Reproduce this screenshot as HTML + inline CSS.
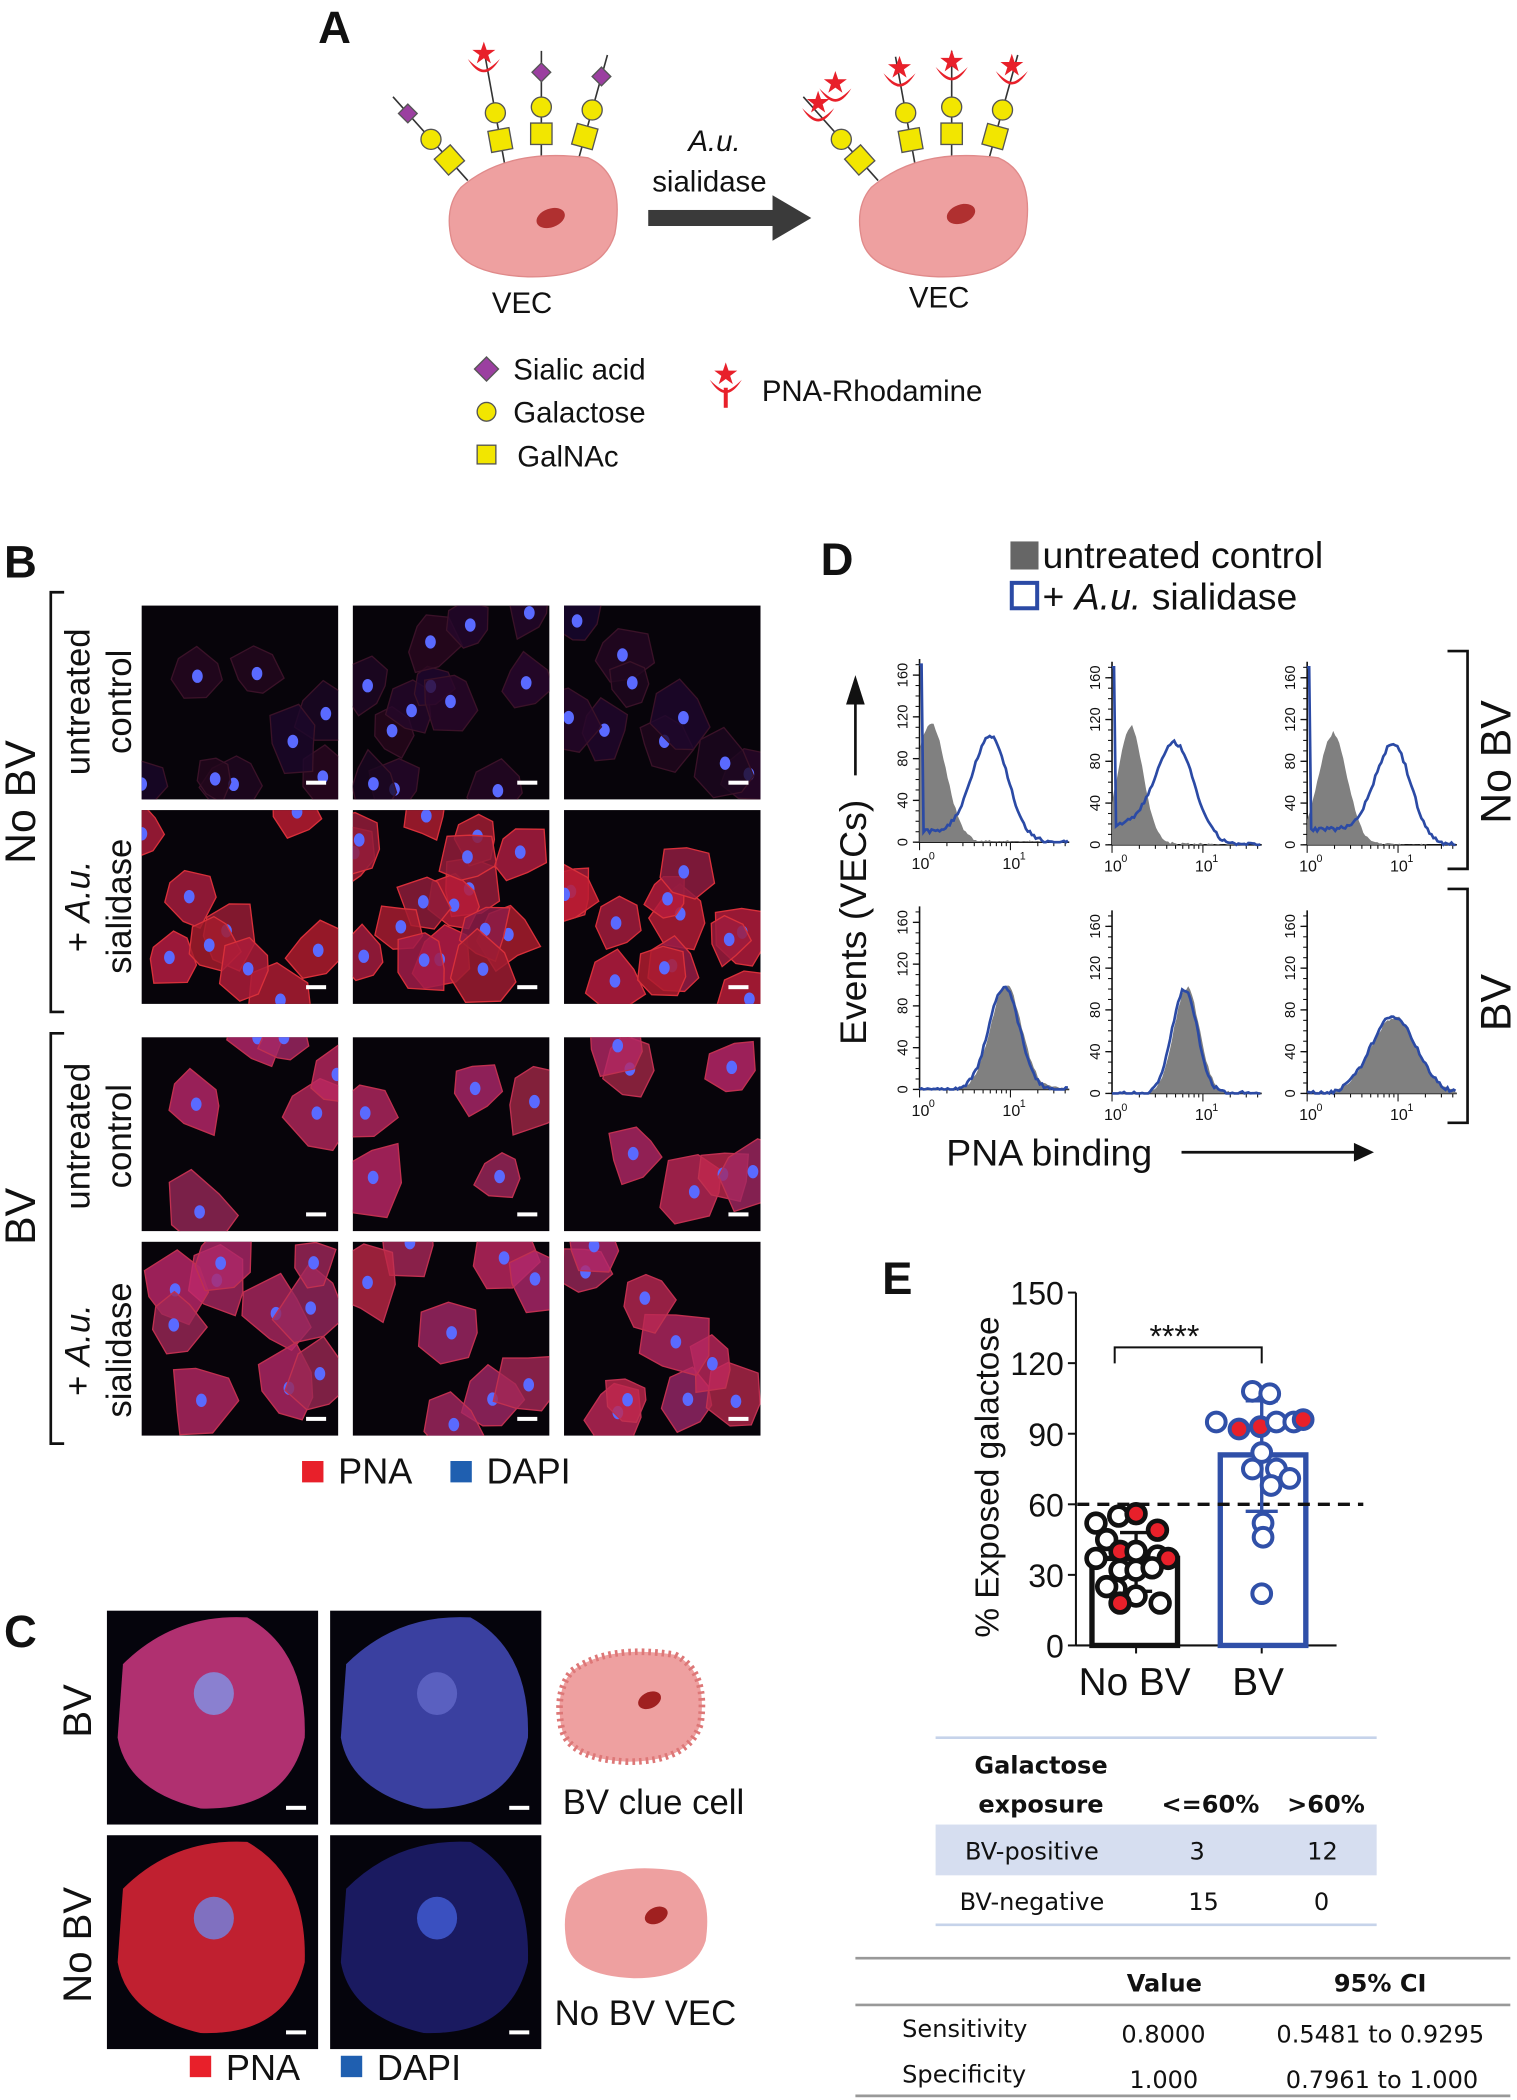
<!DOCTYPE html>
<html><head><meta charset="utf-8"><style>
html,body{margin:0;padding:0;background:#fff}
svg{display:block}
text{font-family:"Liberation Sans",Arial,sans-serif;fill:#111}
.cal{font-family:"DejaVu Sans","Liberation Sans",sans-serif}
</style></head><body>
<svg id="s" width="1517" height="2100" viewBox="0 0 1135 1571" xmlns="http://www.w3.org/2000/svg">
<rect width="1135" height="1571" fill="#fff"/>
<text x="238" y="32" font-size="34" font-weight="bold">A</text>
<g id="glyA"></g>
<path d="M345,140 Q380,110 440,118 Q468,130 460,175 Q450,208 395,207 Q345,205 338,180 Q332,155 345,140Z" fill="#eea0a0" stroke="#e08a8a"/>
<ellipse cx="412" cy="163" rx="11" ry="7" fill="#b03030" transform="rotate(-20 412 163)"/>
<path d="M652,140 Q687,110 747,118 Q775,130 767,175 Q757,208 702,207 Q652,205 645,180 Q639,155 652,140Z" fill="#eea0a0" stroke="#e08a8a"/>
<ellipse cx="719" cy="160" rx="11" ry="7" fill="#b03030" transform="rotate(-20 719 160)"/>
<text x="368" y="234" font-size="22">VEC</text>
<text x="680" y="230" font-size="22">VEC</text>
<text x="515" y="113" font-size="22" font-style="italic">A.u.</text>
<text x="488" y="143" font-size="22">sialidase</text>
<rect x="485" y="157" width="95" height="12" fill="#3a3a3a"/>
<polygon points="578,146 607,163 578,180" fill="#3a3a3a"/>
<polygon points="364,267 373,276 364,285 355,276" fill="#9b3fa0" stroke="#555"/>
<text x="384" y="284" font-size="22">Sialic acid</text>
<circle cx="364" cy="308" r="7" fill="#f2e600" stroke="#555"/>
<text x="384" y="316" font-size="22">Galactose</text>
<rect x="357" y="333" width="14" height="14" fill="#f2e600" stroke="#555"/>
<text x="387" y="349" font-size="22">GalNAc</text>
<text x="570" y="300" font-size="22">PNA-Rhodamine</text>
<g id="legPNA"></g>
<text x="3" y="432" font-size="34" font-weight="bold">B</text>
<g id="micro"></g>
<text transform="translate(26,600) rotate(-90)" font-size="32" text-anchor="middle">No BV</text>
<text transform="translate(26,910) rotate(-90)" font-size="32" text-anchor="middle">BV</text>
<text transform="translate(67,525) rotate(-90)" font-size="26" text-anchor="middle">untreated</text>
<text transform="translate(98,525) rotate(-90)" font-size="26" text-anchor="middle">control</text>
<text transform="translate(67,678) rotate(-90)" font-size="26" text-anchor="middle">+ <tspan font-style="italic">A.u.</tspan></text>
<text transform="translate(98,678) rotate(-90)" font-size="26" text-anchor="middle">sialidase</text>
<text transform="translate(67,850) rotate(-90)" font-size="26" text-anchor="middle">untreated</text>
<text transform="translate(98,850) rotate(-90)" font-size="26" text-anchor="middle">control</text>
<text transform="translate(67,1010) rotate(-90)" font-size="26" text-anchor="middle">+ <tspan font-style="italic">A.u.</tspan></text>
<text transform="translate(98,1010) rotate(-90)" font-size="26" text-anchor="middle">sialidase</text>
<path d="M48,443 H38 V757 H48" fill="none" stroke="#111" stroke-width="2"/>
<path d="M48,773 H38 V1080 H48" fill="none" stroke="#111" stroke-width="2"/>
<rect x="226" y="1093" width="16" height="16" fill="#e8202a"/>
<text x="253" y="1110" font-size="27">PNA</text>
<rect x="337" y="1093" width="16" height="16" fill="#1f5fb0"/>
<text x="364" y="1110" font-size="27">DAPI</text>
<text x="3" y="1232" font-size="34" font-weight="bold">C</text>
<g id="microC"></g>
<text transform="translate(68,1280) rotate(-90)" font-size="30" text-anchor="middle">BV</text>
<text transform="translate(68,1455) rotate(-90)" font-size="30" text-anchor="middle">No BV</text>
<path d="M428,1250 Q455,1230 505,1238 Q530,1250 524,1290 Q515,1318 470,1318 Q425,1316 420,1292 Q415,1265 428,1250Z" fill="#eea0a0" stroke="#d77" stroke-width="5" stroke-dasharray="2 3"/>
<ellipse cx="486" cy="1272" rx="9" ry="6" fill="#a02020" transform="rotate(-25 486 1272)"/>
<path d="M432,1412 Q459,1392 509,1400 Q534,1412 528,1452 Q519,1480 474,1480 Q429,1478 424,1454 Q419,1427 432,1412Z" fill="#eea0a0"/>
<ellipse cx="491" cy="1433" rx="9" ry="6" fill="#a02020" transform="rotate(-25 491 1433)"/>
<text x="421" y="1357" font-size="26">BV clue cell</text>
<text x="415" y="1515" font-size="26">No BV VEC</text>
<rect x="142" y="1538" width="16" height="16" fill="#e8202a"/>
<text x="169" y="1556" font-size="27">PNA</text>
<rect x="255" y="1538" width="16" height="16" fill="#1f5fb0"/>
<text x="282" y="1556" font-size="27">DAPI</text>
<text x="614" y="430" font-size="34" font-weight="bold">D</text>
<rect x="756" y="405" width="21" height="21" fill="#666"/>
<text x="780" y="425" font-size="28">untreated control</text>
<rect x="757" y="436" width="19" height="19" fill="#fff" stroke="#2b4aa5" stroke-width="3"/>
<text x="780" y="456" font-size="28">+ <tspan font-style="italic">A.u.</tspan> sialidase</text>
<g id="hist"></g>
<text transform="translate(648,690) rotate(-90)" font-size="28" text-anchor="middle">Events (VECs)</text>
<line x1="640" y1="525" x2="640" y2="580" stroke="#111" stroke-width="2"/>
<polygon points="633,527 647,527 640,505" fill="#111"/>
<path d="M1083,487 H1098 V650 H1083" fill="none" stroke="#111" stroke-width="2"/>
<path d="M1083,665 H1098 V840 H1083" fill="none" stroke="#111" stroke-width="2"/>
<text transform="translate(1130,570) rotate(-90)" font-size="32" text-anchor="middle">No BV</text>
<text transform="translate(1130,750) rotate(-90)" font-size="32" text-anchor="middle">BV</text>
<text x="708" y="872" font-size="28">PNA binding</text>
<line x1="884" y1="862" x2="1015" y2="862" stroke="#111" stroke-width="2"/>
<polygon points="1013,855 1013,869 1028,862" fill="#111"/>
<text x="660" y="968" font-size="34" font-weight="bold">E</text>
<g id="plotE"></g>
<text transform="translate(747,1105) rotate(-90)" font-size="25" text-anchor="middle">% Exposed galactose</text>
<text x="807" y="1268" font-size="29">No BV</text>
<text x="922" y="1268" font-size="29">BV</text>
<g class="cal">
<line x1="700" y1="1300" x2="1030" y2="1300" stroke="#c6d3ea" stroke-width="2"/>
<text x="729" y="1327" font-size="18" font-weight="bold" class="cal">Galactose</text>
<text x="732" y="1356" font-size="18" font-weight="bold" class="cal">exposure</text>
<text x="869" y="1356" font-size="18" font-weight="bold" class="cal">&lt;=60%</text>
<text x="963" y="1356" font-size="18" font-weight="bold" class="cal">&gt;60%</text>
<rect x="700" y="1365" width="330" height="38" fill="#d6def0"/>
<text x="722" y="1391" font-size="18" class="cal">BV-positive</text>
<text x="890" y="1391" font-size="18" class="cal">3</text>
<text x="978" y="1391" font-size="18" class="cal">12</text>
<text x="718" y="1429" font-size="18" class="cal">BV-negative</text>
<text x="889" y="1429" font-size="18" class="cal">15</text>
<text x="983" y="1429" font-size="18" class="cal">0</text>
<line x1="700" y1="1440" x2="1030" y2="1440" stroke="#c6d3ea" stroke-width="2"/>
<line x1="640" y1="1465" x2="1130" y2="1465" stroke="#999" stroke-width="2"/>
<text x="843" y="1490" font-size="18" font-weight="bold" class="cal">Value</text>
<text x="998" y="1490" font-size="18" font-weight="bold" class="cal">95% CI</text>
<line x1="640" y1="1500" x2="1130" y2="1500" stroke="#999" stroke-width="2"/>
<text x="675" y="1524" font-size="18" class="cal">Sensitivity</text>
<text x="839" y="1528" font-size="18" class="cal">0.8000</text>
<text x="955" y="1528" font-size="18" class="cal">0.5481 to 0.9295</text>
<text x="675" y="1558" font-size="18" class="cal">Specificity</text>
<text x="845" y="1562" font-size="18" class="cal">1.000</text>
<text x="962" y="1562" font-size="18" class="cal">0.7961 to 1.000</text>
<line x1="640" y1="1568" x2="1130" y2="1568" stroke="#999" stroke-width="2"/>
</g>
</svg>
<script>
var NS="http://www.w3.org/2000/svg";
function el(p,t,a){var e=document.createElementNS(NS,t);for(var k in a)e.setAttribute(k,a[k]);p.appendChild(e);return e;}
var seed=7;function rnd(){seed=(seed*16807)%2147483647;return seed/2147483647;}
var gA=document.getElementById('glyA');
function pna(g,x,y){el(g,'path',{d:'M'+(x-12)+','+(y-6)+' Q'+x+','+(y+14)+' '+(x+12)+','+(y-6)+' Q'+(x+4)+','+(y+2)+' '+x+','+(y+2)+' Q'+(x-4)+','+(y+2)+' '+(x-12)+','+(y-6)+'Z',fill:'#e8202a'});
 el(g,'polygon',{points:star(x,y-10,9,3.5),fill:'#e8202a'});}
function star(cx,cy,R,r){var p=[];for(var i=0;i<10;i++){var a=Math.PI/5*i-Math.PI/2;var rr=i%2?r:R;p.push((cx+rr*Math.cos(a)).toFixed(1)+','+(cy+rr*Math.sin(a)).toFixed(1));}return p.join(' ');}
function glycan(g,x0,y0,ang,len,sia,hasP){var dx=Math.cos(ang),dy=Math.sin(ang);
 var pts=[];for(var i=0;i<=3;i++)pts.push([x0+dx*len*i/3,y0+dy*len*i/3]);
 el(g,'line',{x1:x0,y1:y0,x2:pts[3][0]+dx*22,y2:pts[3][1]+dy*22,stroke:'#333','stroke-width':1.2});
 el(g,'rect',{x:pts[1][0]-8,y:pts[1][1]-8,width:16,height:16,fill:'#f2e600',stroke:'#555',transform:'rotate('+(ang*57.3+90)+' '+pts[1][0]+' '+pts[1][1]+')'});
 el(g,'circle',{cx:pts[2][0],cy:pts[2][1],r:7.5,fill:'#f2e600',stroke:'#555'});
 var t=[pts[2][0]+dx*26,pts[2][1]+dy*26];
 if(sia)el(g,'polygon',{points:(t[0])+','+(t[1]-7)+' '+(t[0]+7)+','+t[1]+' '+t[0]+','+(t[1]+7)+' '+(t[0]-7)+','+t[1],fill:'#9b3fa0',stroke:'#555'});
 if(hasP)pna(g,t[0],t[1]+2);}
var L=[[350,135,-2.3,62,1],[378,125,-1.75,62,0],[405,120,-1.57,60,1],[432,122,-1.3,62,1]];
L.forEach(function(a){glycan(gA,a[0],a[1],a[2],a[3],a[4],0);});
pna(gA,362,50);
L.forEach(function(a){glycan(gA,a[0]+307,a[1],a[2],a[3],0,1);});
pna(gA,625,72);
pna(document.getElementById('legPNA'),543,290);
el(document.getElementById('legPNA'),'line',{x1:543,y1:290,x2:543,y2:305,stroke:'#e8202a','stroke-width':3});
function micro(g,x,y,w,h,n,bright,size,bg){
 el(g,'rect',{x:x,y:y,width:w,height:h,fill:bg||'#07040a'});
 var cp='c'+x+'_'+y;var cl=el(g,'clipPath',{id:cp});el(cl,'rect',{x:x,y:y,width:w,height:h});
 var gg=el(g,'g',{'clip-path':'url(#'+cp+')'});
 for(var i=0;i<n;i++){var cx=x+rnd()*w,cy=y+rnd()*h,r=size*(0.8+rnd()*0.4);
  var pts=[];for(var k=0;k<7;k++){var a=k/7*6.283+rnd()*0.4;var rr=r*(0.7+rnd()*0.5);pts.push((cx+rr*Math.cos(a)).toFixed(1)+','+(cy+rr*Math.sin(a)*1.1).toFixed(1));}
  var f,s,o;
  if(bright==0){f='rgb('+(25+rnd()*20|0)+',8,'+(28+rnd()*20|0)+')';s='#3a1228';o=0.8;}
  else if(bright==2){f='rgb('+(150+rnd()*50|0)+',40,'+(70+rnd()*40|0)+')';s='#c03050';o=0.8;}
  else {f='rgb('+(140+rnd()*50|0)+',28,'+(45+rnd()*30|0)+')';s='#d8303a';o=0.85;}
  el(gg,'polygon',{points:pts.join(' '),fill:f,'fill-opacity':o,stroke:s,'stroke-width':1});
  el(gg,'ellipse',{cx:cx,cy:cy,rx:4,ry:5,fill:'#5a6aff'});}
 el(g,'rect',{x:x+w-24,y:y+h-14,width:15,height:3,fill:'#fff'});}
var gm=document.getElementById('micro');
var xs=[106,264,422],ys=[453,606,776,929],W=147,H=145;
var conf=[[7,0,20],[9,1,21],[7,2,22],[6,2,22]];
var nn=[[8,12,9],[9,16,12],[6,5,7],[10,8,9]];
for(var r=0;r<4;r++)for(var c=0;c<3;c++)micro(gm,xs[c],ys[r],W,H,nn[r][c],conf[r][1],conf[r][2]);
var gc=document.getElementById('microC');
function bigcell(x,y,col,nuc){micro(gc,x,y,158,160,0,0,1,'#05040c');
 el(gc,'path',{d:'M'+(x+12)+','+(y+40)+' Q'+(x+50)+','+(y+2)+' '+(x+105)+','+(y+5)+' Q'+(x+150)+','+(y+30)+' '+(x+148)+','+(y+95)+' Q'+(x+135)+','+(y+150)+' '+(x+70)+','+(y+148)+' Q'+(x+15)+','+(y+135)+' '+(x+8)+','+(y+95)+'Z',fill:col});
 el(gc,'ellipse',{cx:x+80,cy:y+62,rx:15,ry:16,fill:nuc});}
bigcell(80,1205,'#b03070','#8a80d0');bigcell(247,1205,'#3a40a0','#5a60c0');
bigcell(80,1373,'#c02030','#8070c0');bigcell(247,1373,'#1a1a60','#3a50c0');
var gh=document.getElementById('hist');
function gauss(v,m,s){return Math.exp(-0.5*(v-m)*(v-m)/(s*s));}
function hist(x0,base,top,gm,gs,gh2,bm,bs,bh,bbase,spike){
 var w=112,dec=68,sy=(base-top)/160;
 el(gh,'line',{x1:x0,y1:top-12,x2:x0,y2:base,stroke:'#111','stroke-width':1.2});
 el(gh,'line',{x1:x0,y1:base,x2:x0+w,y2:base,stroke:'#111','stroke-width':1.2});
 for(var v=0;v<=160;v+=40){var yy=base-v*sy;el(gh,'line',{x1:x0-5,y1:yy,x2:x0,y2:yy,stroke:'#111'});
  var t=el(gh,'text',{transform:'translate('+(x0-9)+','+yy+') rotate(-90)','font-size':11,'text-anchor':'middle'});t.textContent=v;}
 for(var v=0;v<=170;v+=10){var yy=base-v*sy;el(gh,'line',{x1:x0-3,y1:yy,x2:x0,y2:yy,stroke:'#111','stroke-width':0.8});}
 for(var d=0;d<2;d++)for(var k=1;k<10;k++){var xx=x0+dec*(d+Math.log10(k));if(xx>x0+w)break;el(gh,'line',{x1:xx,y1:base,x2:xx,y2:base+(k==1?6:3),stroke:'#111','stroke-width':0.8});}
 var t1=el(gh,'text',{x:x0-6,y:base+20,'font-size':12});t1.textContent='10';var s1=el(gh,'text',{x:x0+7,y:base+13,'font-size':8});s1.textContent='0';
 var t2=el(gh,'text',{x:x0+dec-6,y:base+20,'font-size':12});t2.textContent='10';var s2=el(gh,'text',{x:x0+dec+7,y:base+13,'font-size':8});s2.textContent='1';
 var g='M'+x0+','+base,b='';
 for(var i=0;i<=w;i+=1.5){var lv=i/dec;var gv=gh2*gauss(lv,gm,gs)+(lv<gm?0:3*Math.exp(-(lv-gm)*2));var bv=bh*gauss(lv,bm,bs)+bbase*(lv<bm?1:Math.max(0,1-(lv-bm)*3))+ (rnd()-0.5)*4;
  if(spike&&i<2)bv=170;
  g+=' L'+(x0+i).toFixed(1)+','+(base-Math.max(0,gv+(rnd()-0.5)*3)*sy).toFixed(1);
  b+=(i==0?'M':' L')+(x0+i).toFixed(1)+','+(base-Math.max(0,bv)*sy).toFixed(1);}
 g+=' L'+(x0+w)+','+base+'Z';
 el(gh,'path',{d:g,fill:'#808080'});
 el(gh,'path',{d:b,fill:'none',stroke:'#2b4aa5','stroke-width':2});}
hist(688,630,505,0.12,0.17,112,0.78,0.2,92,10,1);
hist(832,632,507,0.2,0.14,112,0.7,0.22,80,18,1);
hist(978,632,507,0.28,0.16,105,0.95,0.2,82,15,1);
hist(688,815,690,0.95,0.17,98,0.93,0.17,98,0,0);
hist(832,818,693,0.82,0.14,100,0.8,0.14,100,0,0);
hist(978,818,693,0.95,0.25,72,0.95,0.25,74,0,0);
var ge=document.getElementById('plotE');
var X0=805,Y0=1231,sc=(1231-967)/150;function Y(v){return Y0-v*sc;}
el(ge,'line',{x1:X0,y1:967,x2:X0,y2:Y0,stroke:'#111','stroke-width':1.5});
el(ge,'line',{x1:X0,y1:Y0,x2:1000,y2:Y0,stroke:'#111','stroke-width':1.5});
[0,30,60,90,120,150].forEach(function(v){el(ge,'line',{x1:X0-6,y1:Y(v),x2:X0,y2:Y(v),stroke:'#111','stroke-width':1.5});var t=el(ge,'text',{x:X0-9,y:Y(v)+9,'font-size':24,'text-anchor':'end'});t.textContent=v;});
el(ge,'line',{x1:850,y1:Y0,x2:850,y2:Y0+6,stroke:'#111','stroke-width':1.5});
el(ge,'line',{x1:944,y1:Y0,x2:944,y2:Y0+6,stroke:'#111','stroke-width':1.5});
el(ge,'rect',{x:817,y:Y(37),width:64,height:37*sc,fill:'none',stroke:'#111','stroke-width':4});
el(ge,'rect',{x:913,y:Y(81),width:64,height:81*sc,fill:'none',stroke:'#3050a8','stroke-width':4});
el(ge,'line',{x1:806,y1:Y(60),x2:1020,y2:Y(60),stroke:'#111','stroke-width':2.5,'stroke-dasharray':'9 6'});
el(ge,'path',{d:'M834,1020 V1008 H944 V1020',fill:'none',stroke:'#111','stroke-width':1.5});
var st=el(ge,'text',{x:860,y:1008,'font-size':24});st.textContent='****';
function eb(x,m,lo,hi,c){el(ge,'line',{x1:x,y1:Y(lo),x2:x,y2:Y(hi),stroke:c,'stroke-width':2.5});el(ge,'line',{x1:x-12,y1:Y(lo),x2:x+12,y2:Y(lo),stroke:c,'stroke-width':2.5});el(ge,'line',{x1:x-12,y1:Y(hi),x2:x+12,y2:Y(hi),stroke:c,'stroke-width':2.5});}
var nb=[[837,55,0],[850,56,1],[820,52,0],[866,49,1],[828,45,0],[838,40,1],[850,40,0],[820,37,0],[866,38,0],[874,37,1],[838,32,0],[850,32,0],[862,33,0],[835,24,0],[850,21,0],[868,18,0],[838,18,1],[828,25,0]];
eb(850,37,23,48,'#111');
nb.forEach(function(p){el(ge,'circle',{cx:p[0],cy:Y(p[1]),r:7,fill:p[2]?'#e8202a':'#fff',stroke:'#111','stroke-width':3.5});});
eb(944,81,57,104,'#3050a8');
var bv=[[937,108,0],[950,107,0],[910,95,0],[927,92,1],[943,93,1],[955,95,0],[968,95,0],[975,96,1],[944,82,0],[937,75,0],[955,75,0],[951,68,0],[965,71,0],[945,52,0],[945,46,0],[944,22,0]];
bv.forEach(function(p){el(ge,'circle',{cx:p[0],cy:Y(p[1]),r:7,fill:p[2]?'#e8202a':'#fff',stroke:'#3050a8','stroke-width':3});});
</script>
</body></html>
